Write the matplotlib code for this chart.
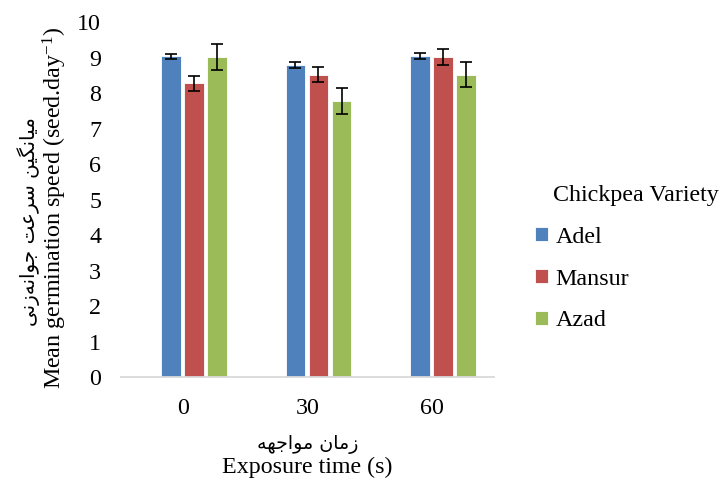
import numpy as np
import matplotlib
matplotlib.use('Agg')
import matplotlib.pyplot as plt

# data
times = ['0', '30', '60']
varieties = ['Adel', 'Mansur', 'Azad']
adel = [9.03, 8.78, 9.04]
adel_err = [0.08, 0.08, 0.08]
mansur = [8.27, 8.52, 9.02]
mansur_err = [0.22, 0.22, 0.22]
azad = [9.02, 7.77, 8.52]
azad_err = [0.37, 0.36, 0.36]
colors = ['#4F81BD', '#C0504D', '#9BBB59']

# persian labels, written in visual order with presentation forms
# (matplotlib does no arabic shaping itself)
ylabel_fa = '\uFEF0\uFEE7\uFEAF\uFEEA\uFEE7\uFE8D\uFEEE\uFE9F \uFE96\uFECB\uFEAE\uFEB3 \uFEE6\uFEF4\uFB95\uFEE7\uFE8E\uFEF4\uFEE3'
xlabel_fa = '\uFEEA\uFEEC\uFE9F\uFE8D\uFEEE\uFEE3 \uFEE5\uFE8E\uFEE3\uFEAF'

plt.rcParams['font.family'] = ['Liberation Serif', 'DejaVu Serif']
FS = 17.3

fig = plt.figure(figsize=(7.2, 4.9), dpi=100)
ax = fig.add_axes([0.1676, 0.2306, 0.5184, 0.7245])

x = np.arange(len(times))
w = 0.157
step = 0.185
shift = 0.09
series = [(adel, adel_err), (mansur, mansur_err), (azad, azad_err)]
for i, (vals, errs) in enumerate(series):
    ax.bar(x + shift + (i - 1) * step, vals, w, color=colors[i], edgecolor='white',
           linewidth=0.6, label=varieties[i], yerr=errs,
           error_kw=dict(ecolor='black', elinewidth=1.2, capsize=4.5, capthick=1.2))

ax.set_xlim(-0.5, 2.5)
ax.set_ylim(0, 10)
ax.set_yticks(range(0, 11))
ax.set_xticks(x)
ax.set_xticklabels(times)
ax.tick_params(axis='both', length=0, labelsize=FS)
ax.tick_params(axis='y', pad=14)
ax.tick_params(axis='x', pad=15)
for s in ['top', 'right', 'left']:
    ax.spines[s].set_visible(False)
ax.spines['bottom'].set_color('#D9D9D9')
ax.spines['bottom'].set_linewidth(1.3)

# axis titles, persian line above the english one
fig.text(0.039, 0.547, ylabel_fa, rotation=90, ha='center', va='center',
         fontsize=14.3, family=['DejaVu Sans'])
fig.text(0.076, 0.575, 'Mean germination speed (seed.day$\\mathregular{^{-1}}$)', rotation=90,
         ha='center', va='center', fontsize=FS)
fig.text(0.428, 0.092, xlabel_fa, ha='center', va='center', fontsize=13.7,
         family=['DejaVu Sans'])
fig.text(0.427, 0.047, 'Exposure time (s)', ha='center', va='center', fontsize=FS)

# legend, title placed by hand so it lines up with the entry texts
fig.text(0.768, 0.602, 'Chickpea Variety', ha='left', va='center', fontsize=FS)
leg = ax.legend(loc='center left', bbox_to_anchor=(0.730, 0.4306), bbox_transform=fig.transFigure,
                frameon=False, fontsize=FS, handlelength=0.55, handleheight=0.55,
                handletextpad=0.3, labelspacing=0.87, borderaxespad=0)

fig.savefig('out.png', dpi=100)
